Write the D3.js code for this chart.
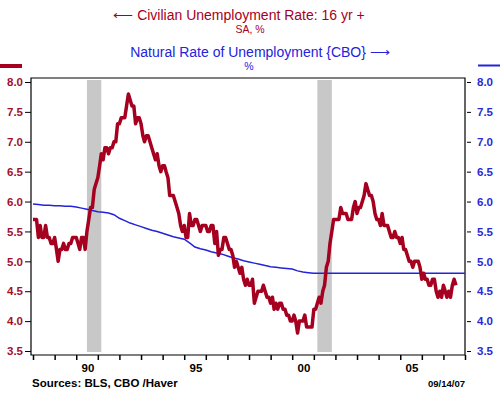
<!DOCTYPE html>
<html>

<head>
    <meta charset="utf-8">
    <script src="https://d3js.org/d3.v7.min.js"></script>
</head>

<style>
    body {
      margin: 0px;
      background: #fff;
    }
    text {
      font-family: "Liberation Sans", Arial, sans-serif;
    }
    .domain {
      display: none;
    }
    .tick line {
      stroke: #000;
    }
    .ylab-left .tick text {
      fill: #a0102c;
      font-size: 11.5px;
      font-weight: bold;
    }
    .ylab-right .tick text {
      fill: #2a2ad6;
      font-size: 11.5px;
      font-weight: bold;
    }
</style>

<body>
    <div id="my_dataviz"></div>
    <script>
        // Civilian unemployment rate, monthly, Jan 1988 - Aug 2007 (%)
        var unrateStart = new Date(1988, 0, 1);
        var unrate = [
            5.7, 5.7, 5.7, 5.4, 5.6, 5.4, 5.4, 5.6, 5.4, 5.4, 5.3, 5.3,
            5.4, 5.2, 5.0, 5.2, 5.2, 5.3, 5.2, 5.2, 5.3, 5.3, 5.4, 5.4,
            5.4, 5.3, 5.2, 5.4, 5.4, 5.2, 5.5, 5.7, 5.9, 5.9, 6.2, 6.3,
            6.4, 6.6, 6.8, 6.7, 6.9, 6.9, 6.8, 6.9, 6.9, 7.0, 7.0, 7.3,
            7.3, 7.4, 7.4, 7.4, 7.6, 7.8, 7.7, 7.6, 7.6, 7.3, 7.4, 7.4,
            7.3, 7.1, 7.0, 7.1, 7.1, 7.0, 6.9, 6.8, 6.7, 6.8, 6.6, 6.5,
            6.6, 6.6, 6.5, 6.4, 6.1, 6.1, 6.1, 6.0, 5.9, 5.8, 5.6, 5.5,
            5.6, 5.4, 5.4, 5.8, 5.6, 5.6, 5.7, 5.7, 5.6, 5.5, 5.6, 5.6,
            5.6, 5.5, 5.5, 5.6, 5.6, 5.3, 5.5, 5.1, 5.2, 5.2, 5.4, 5.4,
            5.3, 5.2, 5.2, 5.1, 4.9, 5.0, 4.9, 4.8, 4.9, 4.7, 4.6, 4.7,
            4.6, 4.6, 4.7, 4.3, 4.4, 4.5, 4.5, 4.5, 4.6, 4.5, 4.4, 4.4,
            4.3, 4.4, 4.2, 4.3, 4.2, 4.3, 4.3, 4.2, 4.2, 4.1, 4.1, 4.0,
            4.0, 4.1, 4.0, 3.8, 4.0, 4.0, 4.0, 4.1, 3.9, 3.9, 3.9, 3.9,
            4.2, 4.2, 4.3, 4.4, 4.3, 4.5, 4.6, 4.9, 5.0, 5.3, 5.5, 5.7,
            5.7, 5.7, 5.7, 5.9, 5.8, 5.8, 5.8, 5.7, 5.7, 5.7, 5.9, 6.0,
            5.8, 5.9, 5.9, 6.0, 6.1, 6.3, 6.2, 6.1, 6.1, 6.0, 5.8, 5.7,
            5.7, 5.6, 5.8, 5.6, 5.6, 5.6, 5.5, 5.4, 5.4, 5.5, 5.4, 5.4,
            5.3, 5.4, 5.2, 5.2, 5.1, 5.0, 5.0, 4.9, 5.0, 5.0, 5.0, 4.9,
            4.7, 4.8, 4.7, 4.7, 4.6, 4.6, 4.7, 4.7, 4.5, 4.4, 4.5, 4.4,
            4.6, 4.5, 4.4, 4.5, 4.4, 4.6, 4.7, 4.6
        ];

        // CBO natural rate of unemployment, quarterly, 1988Q1 - 2008Q1 (%)
        var natStart = new Date(1988, 0, 1);
        var natRate = [
            5.96, 5.95, 5.94, 5.94,
            5.93, 5.93, 5.92, 5.92,
            5.91, 5.89, 5.87, 5.85,
            5.83, 5.82, 5.81, 5.78,
            5.72, 5.68, 5.64, 5.61,
            5.58, 5.55, 5.52, 5.50,
            5.47, 5.44, 5.41, 5.39,
            5.37, 5.31, 5.24, 5.21,
            5.19, 5.16, 5.14, 5.12,
            5.09, 5.06, 5.04, 5.01,
            4.99, 4.97, 4.95, 4.93,
            4.91, 4.90, 4.89, 4.88,
            4.87, 4.84, 4.82, 4.81,
            4.80, 4.80, 4.80, 4.80,
            4.80, 4.80, 4.80, 4.80,
            4.80, 4.80, 4.80, 4.80,
            4.80, 4.80, 4.80, 4.80,
            4.80, 4.80, 4.80, 4.80,
            4.80, 4.80, 4.80, 4.80,
            4.80, 4.80, 4.80, 4.80,
            4.80
        ];

        // NBER recessions
        var recessions = [
            [new Date(1990, 6, 1), new Date(1991, 2, 1)],
            [new Date(2001, 2, 1), new Date(2001, 10, 1)]
        ];

        var yTicks = [3.5, 4.0, 4.5, 5.0, 5.5, 6.0, 6.5, 7.0, 7.5, 8.0];
        var yearLabelYears = [1990, 1995, 2000, 2005];
        var yearLabels = ["90", "95", "00", "05"];

        var red = "#a5001f",
            blue = "#2323dc";

        var W = 500, H = 395;
        var frame = { left: 31, right: 465, top: 78, bottom: 355 };

        var svg = d3.select("#my_dataviz")
            .append("svg")
            .attr("width", W)
            .attr("height", H);

        var x = d3.scaleTime()
            .domain([new Date(1988, 0, 1), new Date(2008, 0, 1)])
            .range([33, frame.right]);

        var y = d3.scaleLinear()
            .domain([3.5, 8.0])
            .range([351, 82]);

        var unData = unrate.map(function (v, i) {
            return { date: d3.timeMonth.offset(unrateStart, i), value: v };
        });
        var natData = natRate.map(function (v, i) {
            return { date: d3.timeMonth.offset(natStart, i * 3), value: v };
        });

        // recession shading
        svg.selectAll("rect.rec")
            .data(recessions)
            .enter()
            .append("rect")
            .attr("class", "rec")
            .attr("x", function (d) { return x(d[0]); })
            .attr("width", function (d) { return x(d[1]) - x(d[0]); })
            .attr("y", frame.top + 2)
            .attr("height", y(3.5) + 1 - (frame.top + 2))
            .style("fill", "#c8c8c8");

        // frame
        svg.append("path")
            .attr("d", "M" + frame.left + "," + frame.bottom +
                "V" + frame.top + "H" + frame.right + "V" + frame.bottom + "Z")
            .style("fill", "none")
            .style("stroke", "#000")
            .style("stroke-width", 1.2);

        // left axis
        svg.append("g")
            .attr("class", "ylab-left")
            .attr("transform", "translate(" + frame.left + ",0)")
            .call(d3.axisLeft(y).tickValues(yTicks).tickFormat(d3.format(".1f")).tickSize(6).tickPadding(2));

        // right axis
        svg.append("g")
            .attr("class", "ylab-right")
            .attr("transform", "translate(" + (frame.right + 2) + ",0)")
            .call(d3.axisRight(y).tickValues(yTicks).tickFormat(d3.format(".1f")).tickSize(4).tickPadding(6));

        // x axis ticks at year starts
        svg.append("g")
            .attr("transform", "translate(0," + frame.bottom + ")")
            .call(d3.axisBottom(x).ticks(d3.timeYear.every(1)).tickSize(5).tickFormat(""))
            .selectAll(".tick line").style("stroke-width", 1.5);

        // year labels at mid-year
        svg.selectAll("text.yr")
            .data(yearLabelYears)
            .enter()
            .append("text")
            .attr("class", "yr")
            .attr("x", function (d) { return x(new Date(d, 6, 1)) + 1; })
            .attr("y", 372)
            .attr("text-anchor", "middle")
            .style("font-size", "11.5px")
            .style("font-weight", "bold")
            .text(function (d, i) { return yearLabels[i]; });

        // lines
        var line = d3.line()
            .x(function (d) { return x(d.date); })
            .y(function (d) { return y(d.value); });

        svg.append("path")
            .datum(natData)
            .attr("d", line)
            .style("fill", "none")
            .style("stroke", blue)
            .style("stroke-width", 1.5);

        svg.append("path")
            .datum(unData)
            .attr("d", line)
            .style("fill", "none")
            .style("stroke", red)
            .style("stroke-width", 3.5)
            .style("stroke-linejoin", "round");

        // titles
        svg.append("text").attr("x", 239).attr("y", 20).attr("text-anchor", "middle")
            .style("font-size", "14px").style("fill", red)
            .text("\u27F5 Civilian Unemployment Rate: 16 yr +");
        svg.append("text").attr("x", 250).attr("y", 33).attr("text-anchor", "middle")
            .style("font-size", "10.5px").style("fill", red)
            .text("SA, %");
        svg.append("text").attr("x", 260).attr("y", 57).attr("text-anchor", "middle")
            .style("font-size", "14px").style("fill", blue)
            .text("Natural Rate of Unemployment {CBO} \u27F6");
        svg.append("text").attr("x", 249).attr("y", 70).attr("text-anchor", "middle")
            .style("font-size", "10.5px").style("fill", blue)
            .text("%");

        // legend swatches
        svg.append("line").attr("x1", 0).attr("x2", 22).attr("y1", 66).attr("y2", 66)
            .style("stroke", red).style("stroke-width", 4);
        svg.append("line").attr("x1", 478).attr("x2", 500).attr("y1", 65.5).attr("y2", 65.5)
            .style("stroke", blue).style("stroke-width", 2);

        // footer
        svg.append("text").attr("x", 32).attr("y", 387)
            .style("font-size", "11.5px").style("font-weight", "bold")
            .text("Sources:  BLS, CBO /Haver");
        svg.append("text").attr("x", 465).attr("y", 387).attr("text-anchor", "end")
            .style("font-size", "9.5px").style("font-weight", "bold")
            .text("09/14/07");
    </script>
</body>

</html>
